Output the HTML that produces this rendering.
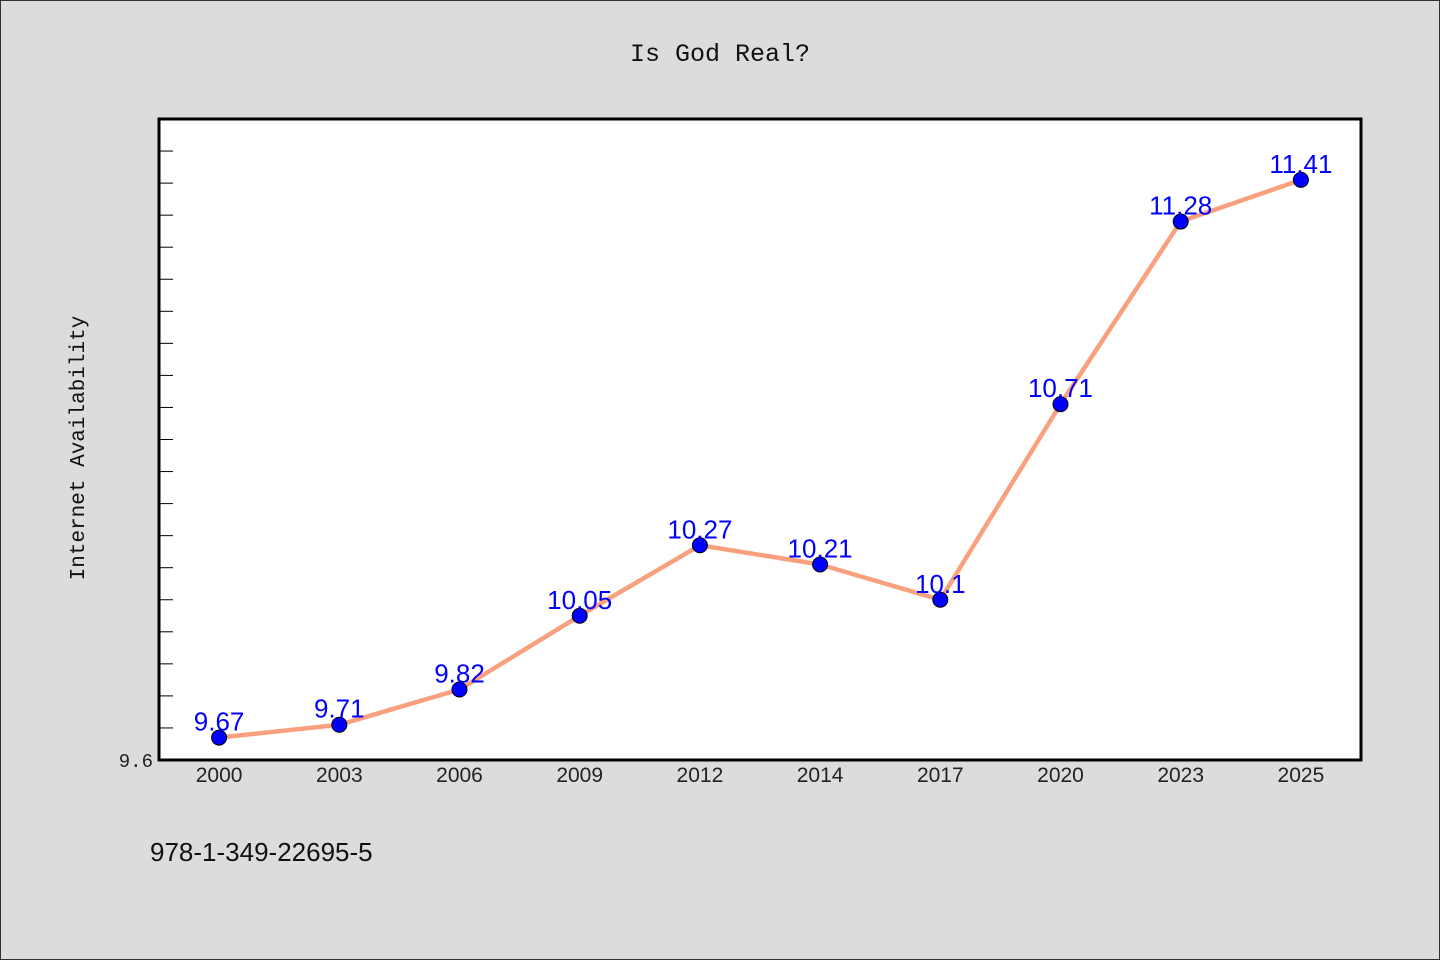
<!DOCTYPE html>
<html><head><meta charset="utf-8"><style>
html,body{margin:0;padding:0;background:#dcdcdc;}
svg{display:block;}
</style></head><body>
<svg width="1440" height="960" xmlns="http://www.w3.org/2000/svg">
<rect x="0.5" y="0.5" width="1439" height="959" fill="#dcdcdc" stroke="#333"/>
<text x="720" y="61" text-anchor="middle" font-family="Liberation Mono, monospace" font-size="25" fill="#111">Is God Real?</text>
<rect x="159" y="119" width="1202" height="641" fill="#fff" stroke="#000" stroke-width="3"/>
<text transform="translate(84,448) rotate(-90)" text-anchor="middle" font-family="Liberation Mono, monospace" font-size="21" fill="#111">Internet Availability</text>
<text x="150" y="861" font-family="Liberation Sans, sans-serif" font-size="26" fill="#111">978-1-349-22695-5</text>
<g id="ticks"></g>
<g id="marks"></g>
</svg>
<script>
const categories = ["2000","2003","2006","2009","2012","2014","2017","2020","2023","2025"];
const values = [9.67, 9.71, 9.82, 10.05, 10.27, 10.21, 10.1, 10.71, 11.28, 11.41];
const labels = ["9.67","9.71","9.82","10.05","10.27","10.21","10.1","10.71","11.28","11.41"];
const yMin = 9.6, yMax = 11.6;
const NS = "http://www.w3.org/2000/svg";
const PX0 = 159, PX1 = 1361, PY0 = 760, PY1 = 119;
function xs(i){ const bw = (PX1-PX0)/categories.length; return PX0 + bw*(i+0.5); }
function ys(v){ return PY0 - (v-yMin)/(yMax-yMin)*(PY0-PY1); }
function mk(tag, attrs, parent){ const e=document.createElementNS(NS,tag); for(const k in attrs) e.setAttribute(k,attrs[k]); parent.appendChild(e); return e; }
const tg = document.getElementById('ticks');
for(let k=1;k<20;k++){
  const y = ys(yMin + k*0.1);
  const t = mk('line',{x1:PX0,x2:PX0+14,y1:y,y2:y,stroke:'#000','stroke-width':1},tg);
  
  
}
const yl = mk('text',{x:153,y:ys(yMin)+7,'text-anchor':'end','font-family':'Liberation Mono, monospace','font-size':19,fill:'#222'},tg);
yl.textContent = String(yMin);


categories.forEach((c,i)=>{
  const t = mk('text',{x:xs(i),y:782,'text-anchor':'middle','font-family':'Liberation Sans, sans-serif','font-size':21,fill:'#222'},tg);
  t.textContent = c;
  
  
});
const mg = document.getElementById('marks');
const pts = values.map((v,i)=>xs(i)+','+ys(v)).join(' ');
const line = mk('polyline',{points:pts,fill:'none',stroke:'#f9a07e','stroke-width':4.5,'stroke-linejoin':'round'},mg);


values.forEach((v,i)=>{
  const c = mk('circle',{cx:xs(i),cy:ys(v),r:7.5,fill:'#0000ff',stroke:'#000','stroke-width':1},mg);
  
  
  const t = mk('text',{x:xs(i),y:ys(v)-7,'text-anchor':'middle','font-family':'Liberation Sans, sans-serif','font-size':26,fill:'#0000ff'},mg);
  t.textContent = labels[i];
  
  
});
</script>
</body></html>
